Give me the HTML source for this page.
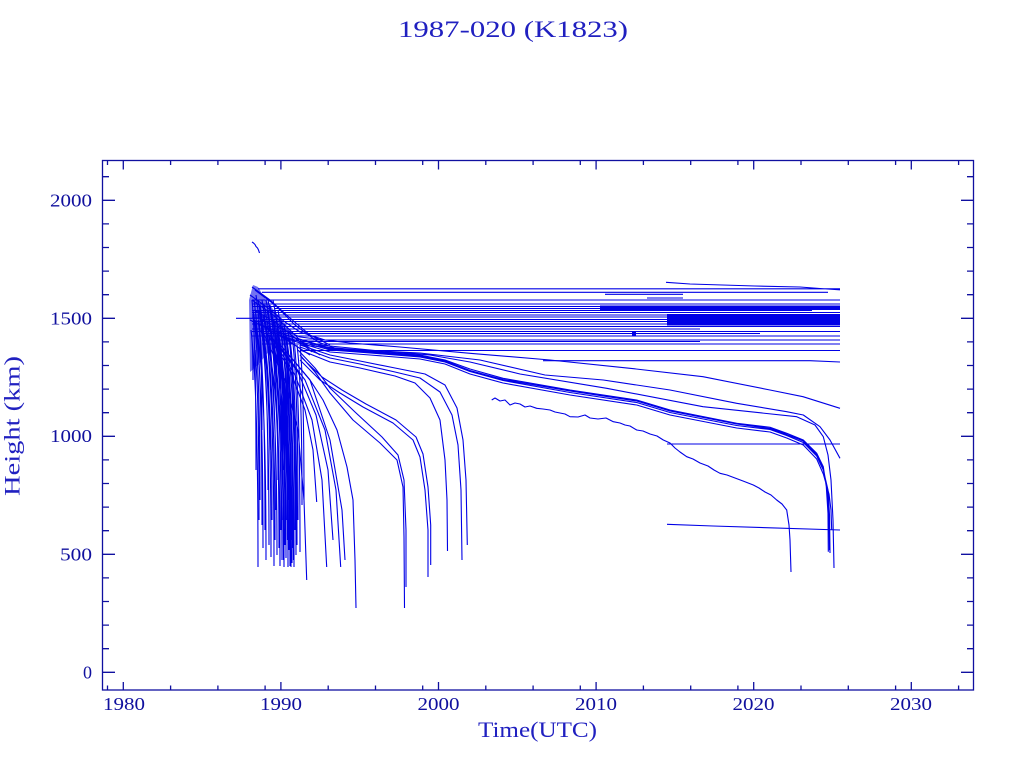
<!DOCTYPE html>
<html><head><meta charset="utf-8"><style>
html,body{margin:0;padding:0;background:#fff;}
svg{display:block;}
text{font-family:"Liberation Serif","DejaVu Serif",serif;}
</style></head><body>
<svg width="1024" height="768" viewBox="0 0 1024 768" xmlns="http://www.w3.org/2000/svg">
<rect width="1024" height="768" fill="#fff"/>
<text x="513" y="37" font-size="23" fill="#2020c0" text-anchor="middle" textLength="230" lengthAdjust="spacingAndGlyphs">1987-020 (K1823)</text>

<g fill="#0000e6">
<rect x="600" y="305.5" width="240" height="4.5"/>
<rect x="667" y="314" width="173" height="11.5"/>
<rect x="632" y="332" width="4" height="4"/>
<polygon points="249,300 253,285 258,287 266,300 280,318 292,332 296,342 285,345 270,350 258,365 250,372" opacity="0.55"/>
</g>

<g fill="none" stroke="#0000e6" stroke-width="1.1" stroke-linejoin="round">
<path d="M252 242 L253.5 243 L255 244.5 L256 246.5 L257.5 248 L258.5 250 L259.5 253 M236 318.3 H262"/>
<path d="M258 288.8 H840 M262 292.3 H828 M647 298 H683 M605 294.3 H683 M252 300 H840 M252 304 H840 M252 306.5 H840 M275 308.5 H840 M252 310.5 H812 M252 312.5 H840 M252 315 H840 M252 317 H840 M262 319.5 H840 M252 321.5 H840 M252 324 H840 M262 326.5 H840 M252 329 H700 M252 331.5 H840 M262 333.5 H760 M252 336 H840 M262 340 H840 M300 341.5 H700 M262 344 H840 M300 350.5 H840 M543 360.7 H810 L840 362 M666 282.3 L690 284 L755 286 L800 287 L820 288.5 L840 289.8 M667 444 H840 M667 524.3 L713 526 L840 530"/>
<path d="M252 287 L270 300 L290 318 L310 335 L330 345 M255 290 L275 305 L295 325 L318 342 L340 350 M250 295 L268 308 L285 322 L300 332 L325 340 M252 300 L272 314 L290 330 L305 345 L320 355 M254 310 L275 322 L295 338 L312 352 M250 320 L270 330 L290 342 L310 355"/>
<path d="M262 320 L300 337 L350 343 L400 347 L470 353.3 L550 360 L630 368.3 L703 376.7 L770 390 L803 396.7 L840 408.3 M300 345 L360 350 L420 353 L480 360 L545 375 L603.3 380 L670 390 L736.7 403.3 L786.7 411.7 L803.3 415 L820 426.7 L830 440 L840 458.3 M300 343 L380 351 L430 355 L470 362 L520 374 L606.7 388.3 L703 406.7 L796.7 416.7 L815 425 L823.3 436.7 L828 455 L831 480 L833 520 L834 568"/>
<path d="M262 325 L280 333 L296 338 L330 348 L370 351 L420 355 L445 360 L470 369 L503 378.3 L570 390 L636.7 400 L670 410 L736.7 423.3 L770 427.3 L786.7 433.3 L803.3 440 L816.7 453.3 L823.3 466.7 L826.3 486.7 L828 513.3 L828.3 551.7 M265 328 L282 336 L298 341 L330 350 L370 353 L420 357 L445 362 L470 371.5 L503 380.5 L570 392.5 L636.7 402.5 L670 412.5 L736.7 425.5 L770 429.5 L786.7 435.5 L803.3 442.5 L816.7 456 L823.3 470 L828 490 L829.5 515 L830 553 M268 330 L285 338 L300 343 L330 352 L370 355 L420 359 L445 364 L470 374 L503 383 L570 395 L636.7 405 L670 415 L736.7 428 L770 432 L786.7 438 L803.3 445 L816.7 459 L823.3 474 L829 494 L831 510 L831.7 530 M266 327 L283 334 L298 339 L330 349 L370 352 L420 356 L445 361 L470 370.5 L503 379.5 L570 391 L636.7 401 L670 411 L736.7 424 L770 428.5 L786.7 434.5 L803.3 441 L816.7 455 L823.3 468 L827 488 L829 515 L829.5 550"/>
<path d="M491.7 400 L495 398 L500 401 L505 400 L510 405 L515 403 L520 404 L525 407 L530 406 L536.7 408.3 L543 409 L550 410 L555 412 L560 413 L565 414 L570 416.7 L578 417 L585 415 L590 418 L598 419 L606 418 L613.3 421.7 L620 423 L625 425 L630 426 L636.7 430 L643 431 L650 434 L657 436 L663.3 440 L670 443 L675 448 L680 452 L686.7 456.7 L693 459 L700 463 L708 466 L714 470 L720 473.3 L727 475 L735 478 L743 481 L753.3 485 L759 488 L765 492 L771 495 L776.7 500 L782 504 L786.7 510 L789 525 L790 540 L791 572"/>
<path d="M280 345 L295 362 L310 380 L323 400 L337 430 L347 467 L353 500 L355 560 L356 608 M300 355 L315 372 L330 393 L353 420 L380 443 L397 460 L403 487 L404 537 L404.5 608 M298 350 L315 368 L330 388 L355 412 L382 437 L398 455 L404 480 L406 530 L406 587 M300 360 L320 380 L340 393 L363 407 L393 423 L413 440 L420 457 L425 490 L428 530 L428 577 M302 358 L322 377 L342 390 L366 404 L396 420 L416 437 L423 454 L428 487 L430.7 525 L430.7 565 M300 350 L330 362 L360 368 L395 376 L415 383 L430 398 L440 420 L445 460 L447 500 L447.5 551 M300 347 L330 358 L360 364 L395 372 L420 378 L440 392 L452 415 L458 445 L461 490 L462 560 M300 345 L330 355 L360 361 L395 368 L425 374 L445 385 L457 408 L463 440 L466 480 L467.3 545"/>
<path d="M262 330 L285 380 L298 430 L304 500 L306.7 580 M268 335 L290 370 L305 410 L313 450 L316.7 502 M270 335 L295 375 L312 420 L322 480 L326.7 567 M275 340 L305 380 L325 430 L336 490 L340.7 567 M278 342 L310 380 L330 440 L342 510 L345 560 M272 338 L298 372 L316 415 L328 470 L333 540"/>
<path d="M251 330 Q253 343 253 380 M252 300 Q256 342 256 470 M252 340 Q258 397 258 567 M253 310 Q260 357 260 500 M254 300 Q262 356 262 525 M255 320 Q263 377 263 548 M256 295 Q265 354 265 530 M257 330 Q266 387 266 560 M258 300 Q268 348 268 490 M259 310 Q269 369 269 545 M260 305 Q271 368 271 557 M261 330 Q272 378 272 520 M262 300 Q274 366 274 566 M263 315 Q275 371 275 540 M264 305 Q276 356 276 510 M265 320 Q277 379 277 555 M266 300 Q279 362 279 548 M267 310 Q280 374 280 566 M268 300 Q281 357 281 530 M269 325 Q282 384 282 560 M270 305 Q284 370 284 567 M272 315 Q285 373 285 545 M273 300 Q286 364 286 558 M274 320 Q287 370 287 520 M275 310 Q288 374 288 567 M277 325 Q289 381 289 550 M278 310 Q290 374 290 566 M280 330 Q291 382 291 540 M281 320 Q292 381 292 563 M283 330 Q293 385 293 548 M284 325 Q294 386 294 567 M286 335 Q295 384 295 530 M288 330 Q296 386 296 555 M290 340 Q297 391 297 545 M292 335 Q298 381 298 520 M294 340 Q300 393 300 552 M297 345 Q302 385 302 505 M300 345 Q304 384 304 500 M262 330 Q270 360 270 450 M266 340 Q278 375 278 480 M270 335 Q284 369 284 470 M275 340 Q288 380 288 500 M258 320 Q262 347 262 430 M255 350 Q259 392 259 520 M278 345 Q283 389 283 520 M271 330 Q283 390 283.5 560 M276 335 Q287 395 287.5 540 M279 340 Q290 400 291 567 M285 345 Q293 400 293.5 560"/>
</g>

<g stroke="#1010a0" stroke-width="1.3" fill="none">
<rect x="102.5" y="160.5" width="871" height="529.5"/>
<path d="M123.3 690 V682 M280.9 690 V682 M438.5 690 V682 M596.1 690 V682 M753.7 690 V682 M911.3 690 V682 M123.3 160.5 V169.5 M280.9 160.5 V169.5 M438.5 160.5 V169.5 M596.1 160.5 V169.5 M753.7 160.5 V169.5 M911.3 160.5 V169.5"/>
<path d="M107.5 690 V685.5 M170.6 690 V685.5 M217.9 690 V685.5 M265.1 690 V685.5 M328.2 690 V685.5 M375.5 690 V685.5 M422.7 690 V685.5 M485.8 690 V685.5 M533.1 690 V685.5 M580.3 690 V685.5 M643.4 690 V685.5 M690.7 690 V685.5 M737.9 690 V685.5 M801 690 V685.5 M848.3 690 V685.5 M895.6 690 V685.5 M958.6 690 V685.5 M107.5 160.5 V165 M170.6 160.5 V165 M217.9 160.5 V165 M265.1 160.5 V165 M328.2 160.5 V165 M375.5 160.5 V165 M422.7 160.5 V165 M485.8 160.5 V165 M533.1 160.5 V165 M580.3 160.5 V165 M643.4 160.5 V165 M690.7 160.5 V165 M737.9 160.5 V165 M801 160.5 V165 M848.3 160.5 V165 M895.6 160.5 V165 M958.6 160.5 V165"/>
<path d="M102.5 672.3 H115 M102.5 554.3 H115 M102.5 436.3 H115 M102.5 318.3 H115 M102.5 200.3 H115 M973.5 672.3 H961 M973.5 554.3 H961 M973.5 436.3 H961 M973.5 318.3 H961 M973.5 200.3 H961"/>
<path d="M102.5 648.7 H109 M102.5 625.1 H109 M102.5 601.5 H109 M102.5 577.9 H109 M102.5 530.7 H109 M102.5 507.1 H109 M102.5 483.5 H109 M102.5 459.9 H109 M102.5 412.7 H109 M102.5 389.1 H109 M102.5 365.5 H109 M102.5 341.9 H109 M102.5 294.7 H109 M102.5 271.1 H109 M102.5 247.5 H109 M102.5 223.9 H109 M102.5 176.7 H109 M973.5 648.7 H967 M973.5 625.1 H967 M973.5 601.5 H967 M973.5 577.9 H967 M973.5 530.7 H967 M973.5 507.1 H967 M973.5 483.5 H967 M973.5 459.9 H967 M973.5 412.7 H967 M973.5 389.1 H967 M973.5 365.5 H967 M973.5 341.9 H967 M973.5 294.7 H967 M973.5 271.1 H967 M973.5 247.5 H967 M973.5 223.9 H967 M973.5 176.7 H967"/>
</g>

<g font-size="18" fill="#10109e" text-anchor="middle">
<text x="124" y="710" textLength="42" lengthAdjust="spacingAndGlyphs">1980</text>
<text x="281" y="710" textLength="42" lengthAdjust="spacingAndGlyphs">1990</text>
<text x="438.5" y="710" textLength="42" lengthAdjust="spacingAndGlyphs">2000</text>
<text x="596" y="710" textLength="42" lengthAdjust="spacingAndGlyphs">2010</text>
<text x="753.5" y="710" textLength="42" lengthAdjust="spacingAndGlyphs">2020</text>
<text x="911" y="710" textLength="42" lengthAdjust="spacingAndGlyphs">2030</text>
</g>
<g font-size="18" fill="#10109e" text-anchor="end">
<text x="92" y="678.3">0</text>
<text x="92" y="560.3" textLength="32" lengthAdjust="spacingAndGlyphs">500</text>
<text x="92" y="442" textLength="42" lengthAdjust="spacingAndGlyphs">1000</text>
<text x="92" y="324.3" textLength="42" lengthAdjust="spacingAndGlyphs">1500</text>
<text x="92" y="206.3" textLength="42" lengthAdjust="spacingAndGlyphs">2000</text>
</g>
<text x="537.5" y="737" font-size="22" fill="#2020c0" text-anchor="middle" textLength="119" lengthAdjust="spacingAndGlyphs">Time(UTC)</text>
<text transform="translate(19.5,426) rotate(-90)" font-size="22" fill="#2020c0" text-anchor="middle" textLength="140" lengthAdjust="spacingAndGlyphs">Height (km)</text>
</svg>
</body></html>
